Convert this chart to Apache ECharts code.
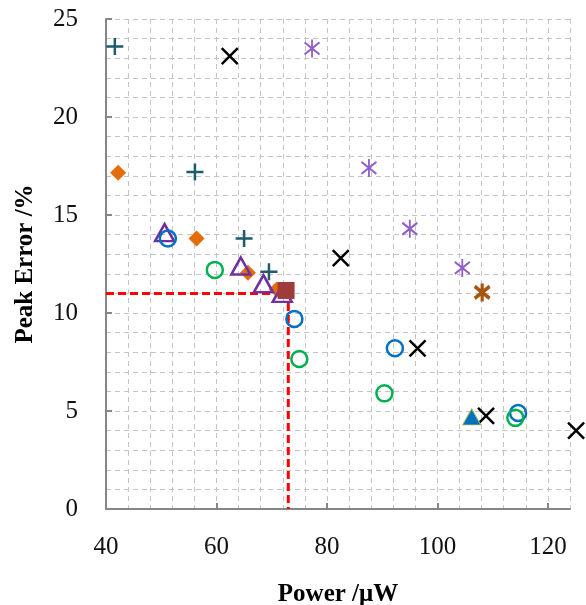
<!DOCTYPE html>
<html>
<head>
<meta charset="utf-8">
<script src="https://cdn.jsdelivr.net/npm/echarts@6/dist/echarts.min.js"></script>
<style>
  html, body { margin: 0; padding: 0; background: #fff; }
  #main { width: 586px; height: 605px; }
</style>
</head>
<body>
<div id="main"></div>
<script>
// tick labels
var xTicks = [40, 60, 80, 100, 120];
var yTicks = [0, 5, 10, 15, 20, 25];

// series values, [power (uW), peak error (%)]
var plusData = [[41.6, 23.6], [56.1, 17.2], [65.0, 13.8], [69.5, 12.1]];
var crossData = [[62.4, 23.1], [82.5, 12.8], [96.4, 8.2], [108.8, 4.75], [125.1, 4.0]];
var starData = [[77.3, 23.5], [87.6, 17.4], [95.0, 14.3], [104.5, 12.3]];
var brownStarData = [[108.1, 11.05]];
var diamondData = [[42.2, 17.15], [56.4, 13.8], [65.7, 12.05], [70.9, 11.2]];
var triangleData = [[50.6, 14.1], [64.4, 12.4], [68.5, 11.5], [71.9, 11.0]];
var blueCircleData = [[51.2, 13.8], [74.1, 9.7], [92.3, 8.2], [114.6, 4.9]];
var greenCircleData = [[59.7, 12.2], [75.0, 7.65], [90.4, 5.9], [114.1, 4.65]];
var filledTriData = [[106.2, 4.7]];
var squareData = [[72.6, 11.15]];
// red dashed guide through the chosen point
var guideData = [[40, 11], [73, 11], [73, 0]];

var font = 'Liberation Serif';
var plusPath = 'path://M0 5L10 5M5 0L5 10';
var crossPath = 'path://M0 0L10 10M10 0L0 10';
var starPath = 'path://M0 2L10 10M10 2L0 10M5 0L5 12';
var none = 'rgba(0,0,0,0)';

function strokeSeries(name, data, symbol, size, color, width) {
    return {
        name: name, type: 'scatter', data: data, symbol: symbol, symbolSize: size,
        clip: false,
        itemStyle: { color: none, borderColor: color, borderWidth: width, opacity: 1 }
    };
}

var myChart = echarts.init(document.getElementById('main'));
myChart.setOption({
    animation: false,
    backgroundColor: '#fff',
    grid: { left: 106, right: 16, top: 19, bottom: 96, outerBoundsMode: 'none', containLabel: false },
    xAxis: [{
        type: 'value', min: 40, max: 124, interval: 20,
        name: 'Power /\u03bcW', nameLocation: 'middle', nameGap: 73,
        nameTextStyle: { fontFamily: font, fontSize: 25, fontWeight: 'bold', color: '#000' },
        axisLine: { lineStyle: { color: '#868686', width: 2 } },
        axisTick: { inside: true, length: 6, lineStyle: { color: '#868686', width: 2 }, customValues: xTicks },
        axisLabel: { fontFamily: font, fontSize: 25, color: '#111', margin: 26, customValues: xTicks },
        splitLine: { show: false }
    }, {
        type: 'value', min: 40, max: 124, interval: 4, position: 'bottom',
        axisLine: { show: false }, axisTick: { show: false }, axisLabel: { show: false },
        splitLine: { show: true, lineStyle: { color: '#c4c4c4', type: [5, 4], width: 1 } }
    }],
    yAxis: [{
        type: 'value', min: 0, max: 25, interval: 5,
        name: 'Peak Error /%', nameLocation: 'middle', nameGap: 68,
        nameTextStyle: { fontFamily: font, fontSize: 25, fontWeight: 'bold', color: '#000' },
        axisLine: { show: true, lineStyle: { color: '#868686', width: 2 } },
        axisTick: { show: true, inside: true, length: 6, lineStyle: { color: '#868686', width: 2 }, customValues: yTicks },
        axisLabel: { fontFamily: font, fontSize: 25, color: '#111', margin: 28, customValues: yTicks },
        splitLine: { show: false }
    }, {
        type: 'value', min: 0, max: 25, interval: 1, position: 'left',
        axisLine: { show: false }, axisTick: { show: false }, axisLabel: { show: false },
        splitLine: { show: true, lineStyle: { color: '#c4c4c4', type: [5, 4], width: 1 } }
    }],
    series: [
        {
            name: 'guide', type: 'line', data: guideData, symbol: 'none',
            lineStyle: { color: '#ff0000', width: 3, type: [8, 4] }, z: 1
        },
        strokeSeries('plus', plusData, plusPath, 17, '#1e5b6b', 2.5),
        strokeSeries('cross', crossData, crossPath, 16, '#000000', 2.5),
        strokeSeries('star', starData, starPath, [15, 18], '#9060c8', 2),
        strokeSeries('brownStar', brownStarData, starPath, [15, 18], '#a8560f', 3.5),
        {
            name: 'diamond', type: 'scatter', data: diamondData, symbol: 'diamond', symbolSize: 16,
            itemStyle: { color: '#e46c0a', opacity: 1 }
        },
        strokeSeries('triangle', triangleData, 'triangle', [19, 17], '#7030a0', 2.5),
        strokeSeries('blueCircle', blueCircleData, 'circle', 16, '#0070c0', 2.5),
        strokeSeries('greenCircle', greenCircleData, 'circle', 16, '#00b050', 2.5),
        {
            name: 'filledTri', type: 'scatter', data: filledTriData, symbol: 'triangle', symbolSize: [18, 16],
            itemStyle: { color: '#0070c0', borderColor: '#9bbb59', borderWidth: 1, opacity: 1 }
        },
        {
            name: 'square', type: 'scatter', data: squareData, symbol: 'rect', symbolSize: 17,
            itemStyle: { color: '#9e3b3b', opacity: 1 }
        }
    ]
});
</script>
</body>
</html>
